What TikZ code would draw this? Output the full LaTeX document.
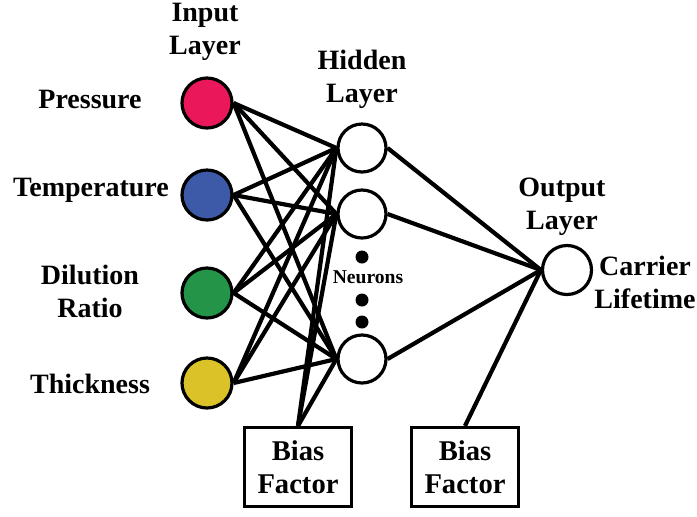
\documentclass[tikz,border=0pt]{standalone}
\usepackage{fontspec}
\setmainfont{Liberation Serif}
\definecolor{cred}{RGB}{234,24,90}
\definecolor{cblue}{RGB}{60,90,168}
\definecolor{cgreen}{RGB}{35,148,72}
\definecolor{cyellow}{RGB}{218,194,40}
\begin{document}
\begin{tikzpicture}[x=0.5pt,y=-0.5pt,
  lbl/.style={font=\fontsize{14}{16.5}\selectfont\bfseries, align=center, inner sep=0pt},
  innode/.style={circle, draw=black, line width=1.6pt, minimum size=25pt, inner sep=0pt},
  hnode/.style={circle, draw=black, fill=white, line width=1.6pt, minimum size=24pt, inner sep=0pt},
  biasbox/.style={draw=black, line width=1.6pt, minimum width=53.5pt, minimum height=39.5pt, inner sep=0pt, align=center, font=\fontsize{14.3}{16.5}\selectfont\bfseries},
  dotn/.style={circle, fill=black, minimum size=6.5pt, inner sep=0pt},
  conn/.style={line width=2.1pt, black}]
\useasboundingbox (0,0) rectangle (697,516);
% input nodes
\node[innode, fill=cred] (i1) at (207,103) {};
\node[innode, fill=cblue] (i2) at (207,195) {};
\node[innode, fill=cgreen] (i3) at (207,293) {};
\node[innode, fill=cyellow] (i4) at (207,383) {};
% hidden nodes
\node[hnode] (h1) at (362,148) {};
\node[hnode] (h2) at (362,214) {};
\node[hnode] (h3) at (362,359) {};
% output node
\node[hnode, minimum size=24.5pt] (o) at (567,270) {};
% dots and neurons
\node[dotn] (d1) at (362,257) {};
\node[dotn] (d2) at (362,300) {};
\node[dotn] (d3) at (362,322) {};
\node[lbl, font=\fontsize{9.8}{11}\selectfont\bfseries] (neur) at (368,277) {Neurons};
% bias boxes
\node[biasbox] (b1) at (298,467) {Bias\\Factor};
\node[biasbox] (b2) at (465,467) {Bias\\Factor};
% labels
\node[lbl] (linput) at (205,32) {Input\\Layer};
\node[lbl] (lhidden) at (362,79) {Hidden\\Layer};
\node[lbl] (loutput) at (562,207) {Output\\Layer};
\node[lbl] (lcarrier) at (645,282) {Carrier\\Lifetime};
\node[lbl] (lp) at (90,99) {Pressure};
\node[lbl] (lt) at (91,190) {Temperature};
\node[lbl] (ld) at (90,291) {Dilution\\Ratio};
\node[lbl] (lth) at (90,384) {Thickness};
% connections
\foreach \i in {i1,i2,i3,i4}{
  \foreach \h in {h1,h2,h3}{
    \draw[conn] (\i.east) -- (\h.west);
  }
}
\foreach \h in {h1,h2,h3}{
  \draw[conn] (\h.east) -- (o.west);
  \draw[conn] (b1.north) -- (\h.west);
}
\draw[conn] (b2.north) -- (o.west);
\end{tikzpicture}
\end{document}
